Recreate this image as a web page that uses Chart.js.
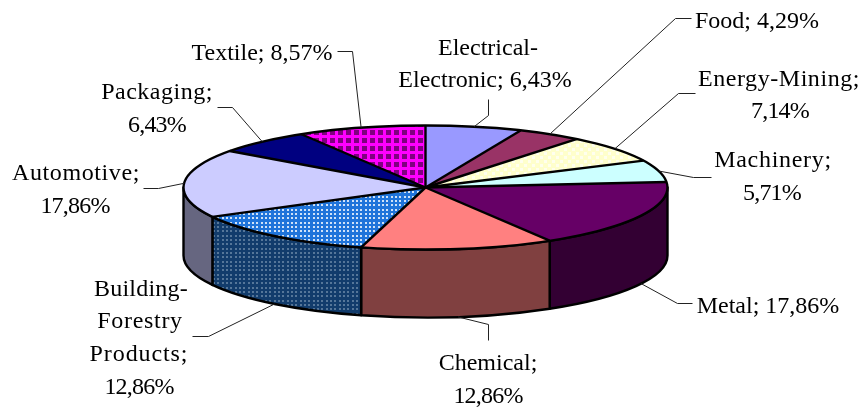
<!DOCTYPE html>
<html>
<head>
<meta charset="utf-8">
<style>
  html, body { margin: 0; padding: 0; background: #fff; }
  canvas { display: block; }
</style>
<script src="https://cdn.jsdelivr.net/npm/chart.js@4/dist/chart.umd.min.js"></script>
</head>
<body>
<canvas id="chart" width="861" height="407"></canvas>
<script>
const categories = ['Electrical-Electronic', 'Food', 'Energy-Mining', 'Machinery', 'Metal',
  'Chemical', 'Building-Forestry Products', 'Automotive', 'Packaging', 'Textile'];
const values = [6.43, 4.29, 7.14, 5.71, 17.86, 12.86, 12.86, 17.86, 6.43, 8.57];

// text of each label, # stands for the value
const labelText = [
  ['Electrical-', 'Electronic; #'], ['Food; #'], ['Energy-Mining;', '#'], ['Machinery;', '#'],
  ['Metal; #'], ['Chemical;', '#'], ['Building-', 'Forestry', 'Products;', '#'],
  ['Automotive;', '#'], ['Packaging;', '#'], ['Textile; #']
];

// where each label sits and how its leader line bends on the way out of the rim
const labelSpots = [
  { x: [488, 485], y: [55, 87], gap: [0, 0], bends: [[488, 115], [488, 99]] },
  { x: [757], y: [28], gap: [0], bends: [[675, 18], [691, 18]] },
  { x: [779, 780], y: [86, 118], gap: [0.55, -0.8], bends: [[678, 93], [695, 93]] },
  { x: [773, 772], y: [167, 200], gap: [0.7, -0.8], bends: [[693, 177], [711, 177]] },
  { x: [768], y: [313], gap: [0], bends: [[677, 303], [692, 303]] },
  { x: [488, 488], y: [370, 403], gap: [0, -0.8], bends: [[488, 324], [488, 340]] },
  { x: [141, 140, 139, 139], y: [296, 328, 361, 394], gap: [0.2, 0.7, 0.9, -0.8], bends: [[208, 336], [192, 336]] },
  { x: [76, 75], y: [180, 213], gap: [0.6, -0.8], bends: [[158, 188], [143, 188]] },
  { x: [157, 157], y: [99, 132], gap: [0.5, -0.8], bends: [[232, 107], [217, 107]] },
  { x: [262], y: [60], gap: [0], bends: [[352, 51], [337, 51]] }
];

const topColors = ['#9999ff', '#993366', '#ffffcc', '#ccffff', '#660066',
  '#ff8080', '#0066cc', '#ccccff', '#000080', '#ff00ff'];
const wallColors = ['#4d4d80', '#4d1a33', '#808066', '#668080', '#330033',
  '#804040', '#003366', '#666680', '#000040', '#800080'];

// the tilted pie: ellipse of the top face and height of the wall
const pieX = 425.5, pieY = 187.5, pieRx = 242, pieRy = 62, pieDepth = 68;

function makeTile(size, paint) {
  const c = document.createElement('canvas');
  c.width = c.height = size;
  paint(c.getContext('2d'));
  return c;
}
const dotTile = (base, dot) => makeTile(13, g => {
  g.fillStyle = base; g.fillRect(0, 0, 13, 13);
  g.fillStyle = dot;
  [[1, 1], [5, 1], [9, 1], [1, 5], [5, 5], [9, 5], [1, 9], [5, 9], [9, 9]].forEach(p => g.fillRect(p[0], p[1], 2, 2));
});
const gridTile = makeTile(8, g => {
  g.fillStyle = '#ff00ff'; g.fillRect(0, 0, 8, 8);
  g.fillStyle = '#800080'; g.fillRect(2, 2, 5, 5);
});
const checkTile = makeTile(8, g => {
  g.fillStyle = '#ffffcc'; g.fillRect(0, 0, 8, 8);
  g.fillStyle = '#ffffee';
  g.fillRect(0, 0, 3, 3); g.fillRect(4, 4, 3, 3);
});

const topTiles = { 2: checkTile, 6: dotTile('#1f74da', '#cfe2f8'), 9: gridTile };
const wallTiles = { 6: dotTile('#123c6c', '#557699') };

function sliceFill(ctx) {
  const i = ctx.dataIndex;
  if (!topTiles[i]) return topColors[i];
  // the pie is drawn inside a squashed transform, undo it for the pattern
  const chart = ctx.chart;
  const r = Math.min(chart.width, chart.height) / 2;
  const p = chart.ctx.createPattern(topTiles[i], 'repeat');
  p.setTransform(new DOMMatrix().translate(chart.width / 2, chart.height / 2)
    .scale(r / pieRx, r / pieRy).translate(-pieX, -pieY));
  return p;
}

const tiltPlugin = {
  id: 'tilt',
  beforeDatasetsDraw(chart) {
    const ctx = chart.ctx;
    const arcs = chart.getDatasetMeta(0).data;
    ctx.save();
    ctx.lineWidth = 2.4;
    ctx.strokeStyle = '#000';
    ctx.lineJoin = 'round';
    arcs.forEach((arc, i) => {
      const a0 = Math.max(arc.startAngle, 0), a1 = Math.min(arc.endAngle, Math.PI);
      if (a1 <= a0) return;
      ctx.beginPath();
      ctx.ellipse(pieX, pieY, pieRx, pieRy, 0, a0, a1);
      ctx.ellipse(pieX, pieY + pieDepth, pieRx, pieRy, 0, a1, a0, true);
      ctx.closePath();
      ctx.fillStyle = wallTiles[i] ? ctx.createPattern(wallTiles[i], 'repeat') : wallColors[i];
      ctx.fill();
      ctx.stroke();
    });
    ctx.restore();

    const first = arcs[0];
    const r = first.outerRadius;
    ctx.save();
    ctx.translate(pieX, pieY);
    ctx.scale(pieRx / r, pieRy / r);
    ctx.translate(-first.x, -first.y);
  },
  afterDatasetsDraw(chart) {
    const ctx = chart.ctx;
    ctx.restore();
    const arcs = chart.getDatasetMeta(0).data;

    ctx.save();
    ctx.lineWidth = 2.4;
    ctx.strokeStyle = '#000';
    ctx.lineJoin = 'round';
    arcs.forEach(arc => {
      ctx.beginPath();
      ctx.moveTo(pieX, pieY);
      ctx.lineTo(pieX + pieRx * Math.cos(arc.startAngle), pieY + pieRy * Math.sin(arc.startAngle));
      ctx.stroke();
    });
    ctx.beginPath();
    ctx.ellipse(pieX, pieY, pieRx, pieRy, 0, 0, Math.PI * 2);
    ctx.stroke();
    ctx.restore();

    ctx.save();
    ctx.lineWidth = 1;
    ctx.strokeStyle = '#222';
    ctx.fillStyle = '#000';
    ctx.font = '24px "Liberation Serif"';
    ctx.textAlign = 'center';
    ctx.textBaseline = 'alphabetic';
    arcs.forEach((arc, i) => {
      const spot = labelSpots[i];
      const mid = (arc.startAngle + arc.endAngle) / 2;
      const front = Math.sin(mid) > 0 ? pieDepth : 0;
      ctx.beginPath();
      ctx.moveTo(pieX + pieRx * Math.cos(mid), pieY + pieRy * Math.sin(mid) + front);
      spot.bends.forEach(b => ctx.lineTo(b[0] + 0.5, b[1] + 0.5));
      ctx.stroke();
      const shown = values[i].toFixed(2).replace('.', ',') + '%';
      labelText[i].forEach((line, k) => {
        ctx.letterSpacing = spot.gap[k] + 'px';
        ctx.fillText(line.replace('#', shown), spot.x[k], spot.y[k]);
      });
    });
    ctx.restore();
  }
};

new Chart(document.getElementById('chart'), {
  type: 'pie',
  data: {
    labels: categories,
    datasets: [{ data: values, backgroundColor: sliceFill, borderWidth: 0 }]
  },
  options: {
    responsive: false,
    animation: false,
    events: [],
    plugins: { legend: { display: false }, tooltip: { enabled: false } }
  },
  plugins: [tiltPlugin]
});
</script>
</body>
</html>
